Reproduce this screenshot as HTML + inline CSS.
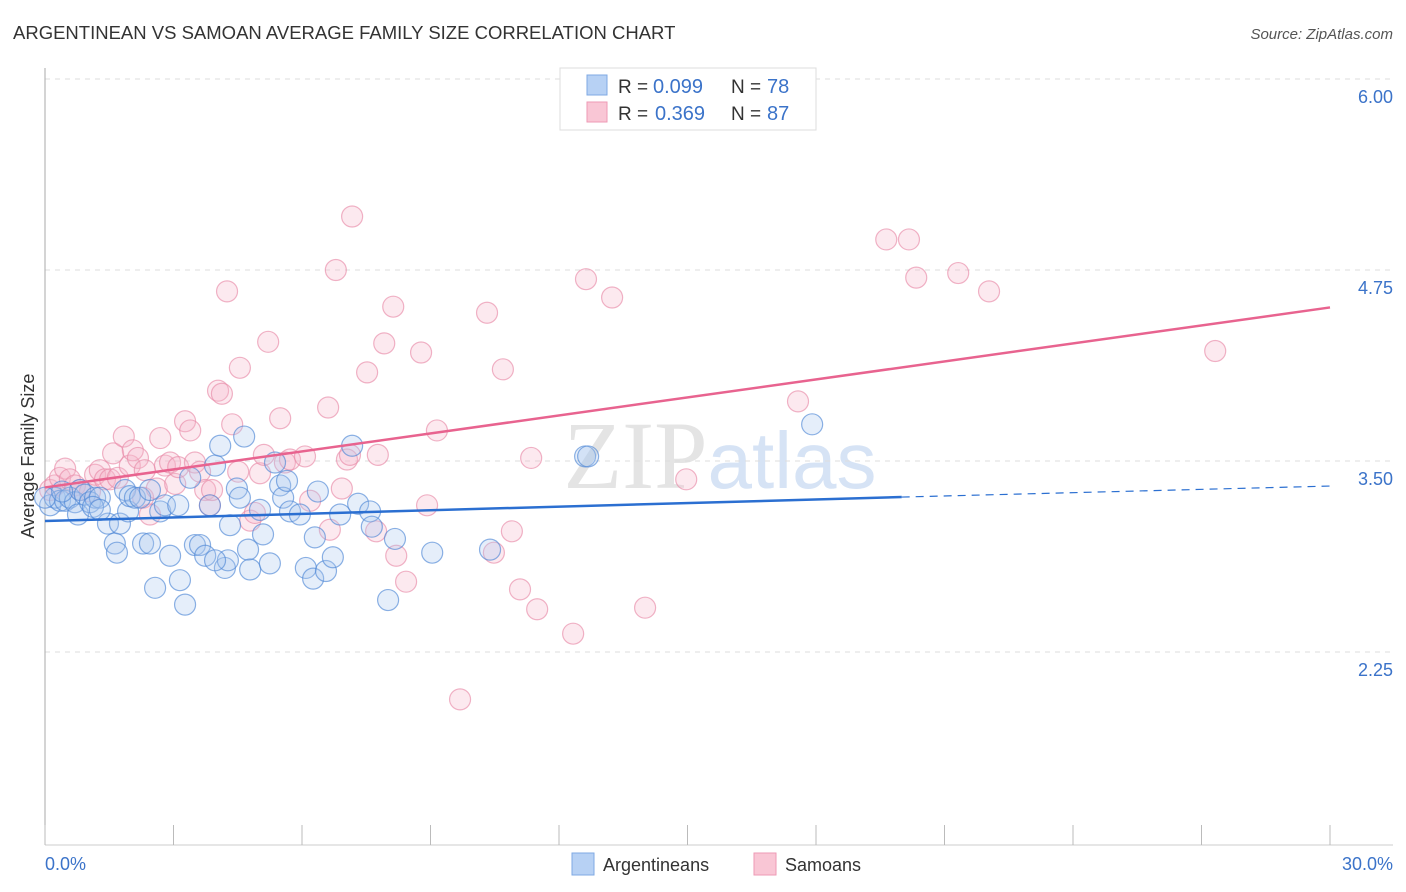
<!DOCTYPE html>
<html><head><meta charset="utf-8"><style>
body{margin:0;background:#fff;font-family:"Liberation Sans",sans-serif}
svg{display:block}
</style></head><body>
<svg id="chart" width="1406" height="892" viewBox="0 0 1406 892" xmlns="http://www.w3.org/2000/svg">
<text x="13" y="39" font-size="18.5" fill="#333">ARGENTINEAN VS SAMOAN AVERAGE FAMILY SIZE CORRELATION CHART</text>
<text x="1393" y="39" font-size="15" fill="#555" font-style="italic" text-anchor="end">Source: ZipAtlas.com</text>
<text x="720" y="488" font-size="96" fill="#e4e4e4" text-anchor="middle" font-family="Liberation Serif,serif">ZIP<tspan fill="#d6e3f5" font-family="Liberation Sans,sans-serif" font-size="80">atlas</tspan></text>
<g id="grid"></g>
<g id="axes"></g>
<g id="pts"></g>
<g id="lines"></g>
<text x="34" y="456" font-size="18" fill="#333" text-anchor="middle" transform="rotate(-90 34 456)">Average Family Size</text>
<g>
<rect x="560" y="68" width="256" height="62" fill="#fff" stroke="#ddd"/>
<rect x="587" y="75" width="20" height="20" fill="#b7d1f4" stroke="#7fa9e3"/>
<rect x="587" y="102" width="20" height="20" fill="#f9c6d5" stroke="#ee9ab5"/>
<text x="618" y="93" font-size="19" fill="#333">R =</text>
<text x="653" y="93" font-size="20" fill="#3b73c9">0.099</text>
<text x="731" y="93" font-size="19" fill="#333">N =</text>
<text x="767" y="93" font-size="20" fill="#3b73c9">78</text>
<text x="618" y="120" font-size="19" fill="#333">R =</text>
<text x="655" y="120" font-size="20" fill="#3b73c9">0.369</text>
<text x="731" y="120" font-size="19" fill="#333">N =</text>
<text x="767" y="120" font-size="20" fill="#3b73c9">87</text>
</g>
<g>
<rect x="572" y="853" width="22" height="22" fill="#b7d1f4" stroke="#7fa9e3"/>
<text x="603" y="871" font-size="18" fill="#333">Argentineans</text>
<rect x="754" y="853" width="22" height="22" fill="#f9c6d5" stroke="#ee9ab5"/>
<text x="785" y="871" font-size="18" fill="#333">Samoans</text>
</g>
</svg>
<script>
const yTicks=[6.00,4.75,3.50,2.25];
const yTickLabels=["6.00","4.75","3.50","2.25"];
const xTicks=[0,3,6,9,12,15,18,21,24,27,30];
const xEndLabels=["0.0%","30.0%"];
const blueX=[0.12,0.23,0.35,0.47,0.58,0.70,0.82,0.77,0.93,1.05,1.17,1.28,1.12,1.47,1.63,1.68,1.75,1.87,1.94,1.98,2.10,2.22,2.29,2.45,2.57,2.69,2.80,2.92,3.11,3.15,3.27,3.39,3.50,3.62,3.74,3.85,3.97,4.09,4.20,4.27,4.32,4.48,4.55,4.65,4.74,4.79,5.09,5.25,5.37,5.49,5.56,5.65,5.72,5.95,6.09,6.26,6.30,6.37,6.56,6.72,6.89,7.17,7.31,7.59,7.63,8.01,8.17,9.04,10.39,12.61,12.68,17.91,0.00,0.40,1.28,3.97,5.02,2.45];
const blueY=[3.21,3.26,3.24,3.24,3.26,3.23,3.31,3.15,3.28,3.23,3.26,3.26,3.20,3.09,2.96,2.90,3.09,3.31,3.17,3.27,3.26,3.26,2.96,2.96,2.67,3.17,3.21,2.88,3.21,2.72,2.56,3.39,2.95,2.95,2.88,3.21,3.47,3.60,2.80,2.85,3.08,3.32,3.26,3.66,2.92,2.79,3.02,2.83,3.49,3.34,3.26,3.37,3.17,3.15,2.80,2.73,3.00,3.30,2.78,2.87,3.15,3.60,3.22,3.17,3.07,2.59,2.99,2.90,2.92,3.53,3.53,3.74,3.26,3.30,3.18,2.85,3.18,3.31];
const pinkX=[0.12,0.23,0.35,0.47,0.58,0.70,0.82,1.05,1.17,1.28,1.40,1.52,1.59,1.70,1.84,1.98,2.05,2.17,2.29,2.33,2.45,2.61,2.69,2.80,2.92,3.04,3.11,3.27,3.39,3.50,3.62,3.74,3.85,3.90,4.04,4.13,4.25,4.37,4.51,4.55,4.79,4.90,5.02,5.11,5.21,5.49,5.60,5.72,6.07,6.19,6.61,6.65,6.79,6.93,7.05,7.12,7.17,7.52,7.73,7.77,7.92,8.13,8.20,8.43,8.78,8.92,9.15,9.69,10.32,10.48,10.69,10.90,11.09,11.35,11.49,12.33,12.63,13.24,14.01,14.97,17.58,19.64,20.17,20.34,21.32,22.04,27.32];
const pinkY=[3.31,3.34,3.39,3.45,3.38,3.34,3.31,3.30,3.41,3.44,3.38,3.38,3.55,3.39,3.66,3.47,3.57,3.52,3.26,3.44,3.15,3.32,3.65,3.47,3.49,3.35,3.46,3.76,3.70,3.49,3.43,3.31,3.21,3.31,3.96,3.94,4.61,3.74,3.43,4.11,3.11,3.16,3.42,3.54,4.28,3.78,3.49,3.51,3.53,3.24,3.85,3.05,4.75,3.32,3.51,3.54,5.10,4.08,3.04,3.54,4.27,4.51,2.88,2.71,4.21,3.21,3.70,1.94,4.47,2.90,4.10,3.04,2.66,3.52,2.53,2.37,4.69,4.57,2.54,3.38,3.89,4.95,4.95,4.70,4.73,4.61,4.22];
const blueTrend=[[0,3.107],[20,3.264],[30,3.336]];
const pinkTrend=[[0,3.327],[30,4.505]];
const NS="http://www.w3.org/2000/svg";
const X=v=>45+v*(1285/30);
const Y=v=>79+(6-v)*152.8;
function mk(t,a,p){const e=document.createElementNS(NS,t);for(const k in a)e.setAttribute(k,a[k]);document.getElementById(p).appendChild(e);return e;}
yTicks.forEach((t,i)=>{
 const l=mk('line',{x1:45,x2:1393,y1:Y(t),y2:Y(t),stroke:'#ddd','stroke-dasharray':'5,5'},'grid');
 
 
 const tx=mk('text',{x:1393,y:Y(t)+24,'font-size':18,fill:'#3b73c9','text-anchor':'end'},'axes');
 tx.textContent=yTickLabels[i];
 
 
});
const ax=mk('line',{x1:45,x2:45,y1:68,y2:845,stroke:'#aaa'},'axes');


const bx=mk('line',{x1:45,x2:1393,y1:845,y2:845,stroke:'#ccc'},'axes');


xTicks.forEach(t=>{
 const l=mk('line',{x1:X(t),x2:X(t),y1:825,y2:845,stroke:'#bbb'},'axes');
 
 
});
[[0,'start',45],[30,'end',1393]].forEach((d,i)=>{
 const tx=mk('text',{x:d[2],y:870,'font-size':18,fill:'#3b73c9','text-anchor':d[1]},'axes');
 tx.textContent=xEndLabels[i];
 
 
});
function dots(xs,ys,fill,stroke,name){
 xs.forEach((x,i)=>{
  const c=mk('circle',{cx:X(x),cy:Y(ys[i]),r:10.5,fill:fill,'fill-opacity':0.3,stroke:stroke,'stroke-opacity':0.65,'stroke-width':1.2},'pts');
  
  
 });
}
dots(pinkX,pinkY,'#f5b5c9','#e88aa8','samoan-point');
dots(blueX,blueY,'#a9c8f0','#4f87d6','argentinean-point');
let l1=mk('line',{x1:X(blueTrend[0][0]),y1:Y(blueTrend[0][1]),x2:X(blueTrend[1][0]),y2:Y(blueTrend[1][1]),stroke:'#2b6fd1','stroke-width':2.5},'lines');


let l2=mk('line',{x1:X(blueTrend[1][0]),y1:Y(blueTrend[1][1]),x2:X(blueTrend[2][0]),y2:Y(blueTrend[2][1]),stroke:'#2b6fd1','stroke-width':1.2,'stroke-dasharray':'8,6'},'lines');


let l3=mk('line',{x1:X(pinkTrend[0][0]),y1:Y(pinkTrend[0][1]),x2:X(pinkTrend[1][0]),y2:Y(pinkTrend[1][1]),stroke:'#e8638f','stroke-width':2.5},'lines');


</script>
</body></html>
